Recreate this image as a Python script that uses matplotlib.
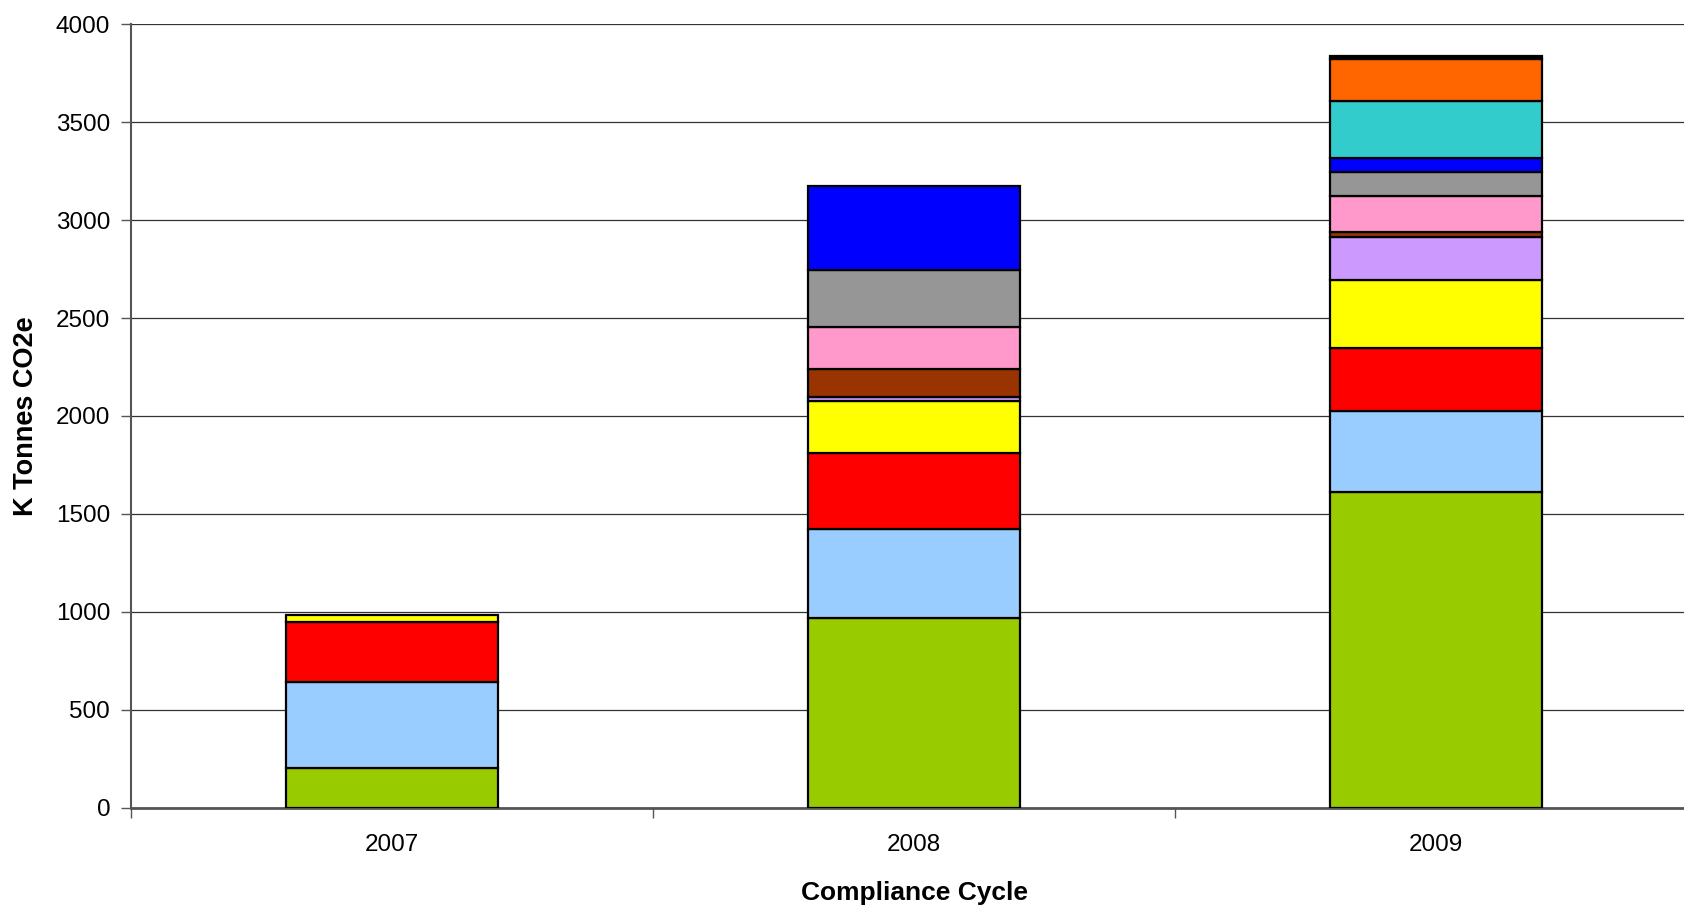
import matplotlib
matplotlib.use("Agg")
import matplotlib.pyplot as plt
import numpy as np

plt.rcParams['font.family'] = ['Liberation Sans', 'DejaVu Sans']

categories = ['2007', '2008', '2009']
series_names = ['S1', 'S2', 'S3', 'S4', 'S5', 'S6', 'S7', 'S8', 'S9', 'S10', 'S11', 'S12']
colors = ['#99CC00', '#99CCFF', '#FF0000', '#FFFF00', '#CC99FF', '#993300',
          '#FF99CC', '#969696', '#0000FF', '#33CCCC', '#FF6600', '#000000']
s1 = [204, 970, 1613]
s2 = [439, 451, 414]
s3 = [304, 388, 319]
s4 = [37, 268, 350]
s5 = [0, 21, 220]
s6 = [0, 140, 25]
s7 = [0, 216, 182]
s8 = [0, 291, 121]
s9 = [0, 429, 75]
s10 = [0, 0, 289]
s11 = [0, 0, 215]
s12 = [0, 0, 15]
series = [s1, s2, s3, s4, s5, s6, s7, s8, s9, s10, s11, s12]
yticks = [0, 500, 1000, 1500, 2000, 2500, 3000, 3500, 4000]

fig = plt.figure(figsize=(16.84, 9.10), dpi=100)
ax = fig.add_axes([131/1684, 1-807.7/910, (1697-131)/1684, (807.7-24.3)/910])

x = np.arange(len(categories))
bottom = np.zeros(len(categories))
for vals, col in zip(series, colors):
    v = np.array(vals, dtype=float)
    mask = v > 0
    ax.bar(x[mask], v[mask], bottom=bottom[mask], width=0.405, color=col,
           edgecolor='black', linewidth=1.6, zorder=3)
    bottom += v

ax.set_xlim(-0.5, 2.5)
ax.set_ylim(0, 4000)
ax.set_yticks(yticks)
ax.set_yticklabels([str(t) for t in yticks], fontsize=17.5)
ax.yaxis.grid(True, color='#333333', linewidth=0.9, zorder=0)
ax.set_axisbelow(True)

ax.set_xticks(x)
ax.set_xticklabels(categories, fontsize=17.5)
ax.tick_params(axis='x', which='major', length=0, pad=19)
ax.set_xticks([-0.5, 0.5, 1.5, 2.5], minor=True)
ax.tick_params(axis='x', which='minor', length=7, width=1, color='#555555', direction='out')
ax.tick_params(axis='y', length=7, width=1, color='#555555', pad=8)

for s in ['top', 'right']:
    ax.spines[s].set_visible(False)
ax.spines['left'].set_color('#555555')
ax.spines['left'].set_linewidth(1.5)
ax.spines['bottom'].set_color('#555555')
ax.spines['bottom'].set_linewidth(2)

ax.set_xlabel('Compliance Cycle', fontsize=19, fontweight='bold', labelpad=18)
ax.set_ylabel('K Tonnes CO2e', fontsize=19.5, fontweight='bold', labelpad=12)

fig.savefig('out.png', dpi=100)
